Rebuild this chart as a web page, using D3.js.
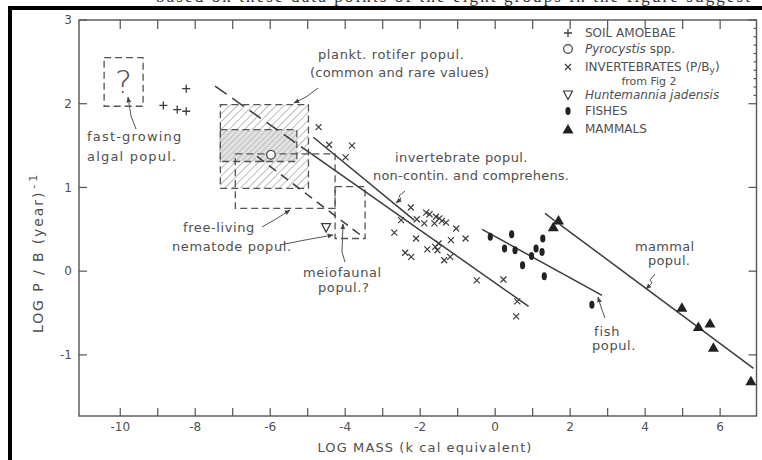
<!DOCTYPE html>
<html>
<head>
<meta charset="utf-8">
<script src="https://cdn.jsdelivr.net/npm/d3@7"></script>
<style>
    body { margin: 0; background: #fff; }
    text { font-family: "DejaVu Sans", sans-serif; fill: #505050; }
</style>
</head>
<body>
<svg id="chart" width="762" height="460"></svg>
<script>
// ---- data (log units) ----
const xTicks = d3.range(-10, 7);
const xLabels = [-10, -8, -6, -4, -2, 0, 2, 4, 6];
const yTicks = [3, 2, 1, 0, -1];

const soilAmoebae = [[-8.85, 1.98], [-8.48, 1.93], [-8.24, 1.91], [-8.24, 2.18]];
const pyrocystis = [[-5.98, 1.39]];
const huntemannia = [[-4.51, 0.52]];
const invertebrates = [
    [-4.71, 1.72], [-4.43, 1.51], [-3.82, 1.50], [-3.99, 1.36],
    [-2.25, 0.76], [-2.51, 0.61], [-2.69, 0.46], [-2.11, 0.39], [-2.40, 0.22], [-2.24, 0.17],
    [-2.09, 0.62], [-1.89, 0.57], [-1.84, 0.70], [-1.75, 0.68], [-1.62, 0.57], [-1.58, 0.65],
    [-1.49, 0.63], [-1.42, 0.60], [-1.31, 0.58], [-1.04, 0.51], [-1.18, 0.37], [-0.79, 0.39],
    [-1.81, 0.26], [-1.60, 0.29], [-1.54, 0.25], [-1.51, 0.33], [-1.36, 0.13], [-1.20, 0.17],
    [-0.49, -0.11], [0.22, -0.10], [0.59, -0.36], [0.56, -0.54]
];
const fishes = [
    [-0.13, 0.41], [0.44, 0.44], [0.25, 0.27], [0.53, 0.25], [0.73, 0.07], [0.97, 0.18],
    [1.09, 0.27], [1.25, 0.23], [1.27, 0.39], [1.31, -0.06], [2.58, -0.40]
];
const mammals = [
    [1.69, 0.61], [1.55, 0.53], [4.98, -0.43], [5.42, -0.66], [5.73, -0.62], [5.82, -0.91], [6.82, -1.31]
];

// regression lines
const invertDashed = [[-7.47, 2.21], [-4.9, 1.40]];
const invertSolid = [[-4.9, 1.40], [0.89, -0.42]];
const invertShort = [[-4.85, 1.60], [-2.16, 0.61]];
const meioDashed = [[-6.35, 1.37], [-3.47, 0.39]];
const fishLine = [[-0.35, 0.50], [2.85, -0.29]];
const mammalDashed = [[1.33, 0.69], [1.62, 0.59]];
const mammalSolid = [[1.72, 0.56], [6.89, -1.16]];

// ranges [x0, x1, y0, y1]
const algalBox = [-10.43, -9.39, 1.97, 2.55];
const rotiferRare = [-7.33, -4.98, 0.99, 1.99];
const rotiferCommon = [-7.33, -5.29, 1.31, 1.69];
const nematodeBox = [-6.93, -4.27, 0.75, 1.40];
const meioBox = [-4.27, -3.47, 0.39, 1.01];

// ---- chart ----
const svg = d3.select('#chart');
const ink = '#3c3c3c';

const x = d3.scaleLinear().domain([-11.1, 6.97]).range([79, 756.5]);
const y = d3.scaleLinear().domain([-1.73, 3]).range([416, 20]);

// page frame + clipped line of text above
svg.append('text')
    .attr('x', 156).attr('y', 2)
    .style('font-family', '"Liberation Serif", serif')
    .style('font-size', '17px')
    .style('fill', '#333')
    .attr('textLength', 594)
    .text('based on these data points of the eight groups in the figure suggest');
svg.append('rect').attr('x', 8).attr('y', 6).attr('width', 754).attr('height', 4).attr('fill', '#000');
svg.append('rect').attr('x', 8).attr('y', 6).attr('width', 4).attr('height', 454).attr('fill', '#000');

const defs = svg.append('defs');
defs.append('pattern')
    .attr('id', 'hatch')
    .attr('patternUnits', 'userSpaceOnUse')
    .attr('width', 5.5).attr('height', 5.5)
    .attr('patternTransform', 'rotate(45)')
    .append('line')
    .attr('x1', 0).attr('y1', 0).attr('x2', 0).attr('y2', 5.5)
    .attr('stroke', '#7a7a7a').attr('stroke-width', 1);
let dense = defs.append('pattern')
    .attr('id', 'dense')
    .attr('patternUnits', 'userSpaceOnUse')
    .attr('width', 4).attr('height', 4)
    .attr('patternTransform', 'rotate(45)');
dense.append('rect').attr('width', 4).attr('height', 4).attr('fill', '#e2e2e2');
dense.append('line')
    .attr('x1', 0).attr('y1', 0).attr('x2', 0).attr('y2', 4)
    .attr('stroke', '#9a9a9a').attr('stroke-width', 1);

defs.append('marker')
    .attr('id', 'arrow')
    .attr('viewBox', '0 0 10 10')
    .attr('refX', 9).attr('refY', 5)
    .attr('markerWidth', 6).attr('markerHeight', 6)
    .attr('orient', 'auto')
    .append('path').attr('d', 'M0,1 L10,5 L0,9 Z').attr('fill', '#444');

// axes box
svg.append('rect')
    .attr('x', x(-11.1)).attr('y', y(3))
    .attr('width', x(6.97) - x(-11.1)).attr('height', y(-1.73) - y(3))
    .attr('fill', 'none').attr('stroke', '#555').attr('stroke-width', 1.4);

// ticks (inside)
let tickG = svg.append('g').attr('stroke', '#555').attr('stroke-width', 1.2);
tickG.selectAll('.bt').data(xTicks).enter().append('line')
    .attr('x1', d => x(d)).attr('x2', d => x(d))
    .attr('y1', y(-1.73)).attr('y2', y(-1.73) - 8);
tickG.selectAll('.tt').data(xTicks).enter().append('line')
    .attr('x1', d => x(d)).attr('x2', d => x(d))
    .attr('y1', y(3)).attr('y2', y(3) + 9);
tickG.selectAll('.lt').data(yTicks).enter().append('line')
    .attr('x1', x(-11.1)).attr('x2', x(-11.1) + 8)
    .attr('y1', d => y(d)).attr('y2', d => y(d));
tickG.selectAll('.rt').data(yTicks).enter().append('line')
    .attr('x1', x(6.97)).attr('x2', x(6.97) - 8)
    .attr('y1', d => y(d)).attr('y2', d => y(d));
tickG.selectAll('.rm').data(d3.range(2.1, 3, 0.1)).enter().append('line')
    .attr('x1', x(6.97)).attr('x2', x(6.97) - 3)
    .attr('y1', d => y(d)).attr('y2', d => y(d));

// tick labels
svg.selectAll('.xl').data(xLabels).enter().append('text')
    .attr('x', d => x(d)).attr('y', 431)
    .attr('text-anchor', 'middle')
    .style('font-size', '12px')
    .text(d => d < 0 ? '-' + Math.abs(d) : d);
svg.selectAll('.yl').data(yTicks).enter().append('text')
    .attr('x', 72).attr('y', d => y(d))
    .attr('dy', '.35em')
    .attr('text-anchor', 'end')
    .style('font-size', '12px')
    .text(d => d < 0 ? '-' + Math.abs(d) : d);

// axis titles
svg.append('text')
    .attr('x', 425).attr('y', 452)
    .attr('text-anchor', 'middle')
    .style('font-size', '13px')
    .style('letter-spacing', '1.1px')
    .text('LOG MASS (k cal equivalent)');
let yTitle = svg.append('text')
    .attr('transform', 'translate(43,333) rotate(-90)')
    .style('font-size', '14px')
    .style('letter-spacing', '1.9px');
yTitle.append('tspan').text('LOG  P / B  (year)');
yTitle.append('tspan').attr('dy', -6).attr('dx', 2).style('font-size', '11px').style('letter-spacing', '3px').text('-1');

// ranges
function boxRect(b, fill) {
    svg.append('rect')
        .attr('x', x(b[0])).attr('y', y(b[3]))
        .attr('width', x(b[1]) - x(b[0])).attr('height', y(b[2]) - y(b[3]))
        .attr('fill', fill)
        .attr('stroke', '#555').attr('stroke-width', 1.3)
        .attr('stroke-dasharray', '7,4');
}
boxRect(rotiferRare, 'url(#hatch)');
boxRect(rotiferCommon, 'url(#dense)');
boxRect(nematodeBox, 'none');
boxRect(meioBox, 'none');
boxRect(algalBox, 'none');

svg.append('text')
    .attr('x', x(-9.91)).attr('y', y(2.26))
    .attr('dy', '.36em')
    .attr('text-anchor', 'middle')
    .style('font-size', '32px')
    .style('font-weight', 200)
    .text('?');

// lines
const line = d3.line().x(d => x(d[0])).y(d => y(d[1]));
function drawLine(pts, dash) {
    svg.append('path')
        .attr('d', line(pts))
        .attr('fill', 'none')
        .attr('stroke', ink).attr('stroke-width', 1.5)
        .attr('stroke-dasharray', dash || null);
}
drawLine(invertDashed, '14,7');
drawLine(invertSolid);
drawLine(invertShort);
drawLine(meioDashed, '9,6');
drawLine(fishLine);
drawLine(mammalDashed);
drawLine(mammalSolid);

// symbols
function plus(g, s) {
    g.append('path').attr('d', `M${-s},0H${s}M0,${-s}V${s}`)
        .attr('stroke', ink).attr('stroke-width', 1.3).attr('fill', 'none');
}
function cross(g, s) {
    g.append('path').attr('d', `M${-s},${-s}L${s},${s}M${s},${-s}L${-s},${s}`)
        .attr('stroke', ink).attr('stroke-width', 1.2).attr('fill', 'none');
}
function ring(g) {
    g.append('circle').attr('r', 4.3).attr('fill', '#fff').attr('stroke', ink).attr('stroke-width', 1.2);
}
function triDown(g) {
    g.append('path').attr('d', 'M-4.5,-4L4.5,-4L0,4.5Z')
        .attr('fill', 'none').attr('stroke', ink).attr('stroke-width', 1.2);
}
function fishDot(g) {
    g.append('ellipse').attr('rx', 2.6).attr('ry', 4).attr('fill', '#222');
}
function triUp(g) {
    g.append('path').attr('d', 'M-5.5,4.5L5.5,4.5L0,-5Z').attr('fill', '#222');
}
function scatter(data, draw) {
    svg.append('g').selectAll('g').data(data).enter().append('g')
        .attr('transform', d => `translate(${x(d[0])},${y(d[1])})`)
        .each(function() { draw(d3.select(this)); });
}
scatter(soilAmoebae, g => plus(g, 4));
scatter(pyrocystis, ring);
scatter(invertebrates, g => cross(g, 3));
scatter(huntemannia, triDown);
scatter(fishes, fishDot);
scatter(mammals, triUp);

// legend
const legendItems = [
    {draw: g => plus(g, 4), parts: [['SOIL AMOEBAE', 'normal']]},
    {draw: ring, parts: [['Pyrocystis', 'italic'], [' spp.', 'normal']]},
    {draw: g => cross(g, 3), parts: [['INVERTEBRATES (P/B', 'normal'], ['y', 'sub'], [')', 'normal']]},
    {draw: triDown, parts: [['Huntemannia jadensis', 'italic']]},
    {draw: fishDot, parts: [['FISHES', 'normal']]},
    {draw: triUp, parts: [['MAMMALS', 'normal']]}
];
const legendY = [33, 49, 67, 95, 111, 129];
legendItems.forEach((item, i) => {
    let g = svg.append('g').attr('transform', `translate(568,${legendY[i]})`);
    item.draw(g);
    let t = svg.append('text')
        .attr('x', 585).attr('y', legendY[i]).attr('dy', '.36em')
        .style('font-size', '12px');
    item.parts.forEach(p => {
        let ts = t.append('tspan').text(p[0]);
        if (p[1] === 'italic') ts.style('font-style', 'italic');
        if (p[1] === 'sub') ts.attr('dy', 2).style('font-size', '9px');
        if (p[1] === 'normal' && i === 2 && p[0] === ')') ts.attr('dy', -2);
    });
});
svg.append('text')
    .attr('x', 649).attr('y', 81).attr('dy', '.36em')
    .attr('text-anchor', 'middle')
    .style('font-size', '11px')
    .text('from Fig 2');

// annotations
const notes = [
    {t: 'fast-growing', x: 87, y: 141, ls: 1.2},
    {t: 'algal popul.', x: 87, y: 161, ls: 1.2},
    {t: 'plankt. rotifer popul.', x: 318, y: 59, ls: 0.6},
    {t: '(common and rare values)', x: 310, y: 77, ls: 0.3},
    {t: 'invertebrate popul.', x: 395, y: 162, ls: 0.4},
    {t: 'non-contin.  and  comprehens.', x: 373, y: 180, ls: 0.2},
    {t: 'free-living', x: 183, y: 232, ls: 0.6},
    {t: 'nematode popul.', x: 172, y: 251, ls: 0.6},
    {t: 'meiofaunal', x: 303, y: 277, ls: 0.6},
    {t: 'popul.?', x: 318, y: 292, ls: 0.6},
    {t: 'fish', x: 594, y: 336, ls: 0.8},
    {t: 'popul.', x: 592, y: 350, ls: 0.6},
    {t: 'mammal', x: 635, y: 251, ls: 0.3},
    {t: 'popul.', x: 648, y: 265, ls: 0.3}
];
svg.selectAll('.note').data(notes).enter().append('text')
    .attr('x', d => d.x).attr('y', d => d.y)
    .style('font-size', '13px')
    .style('letter-spacing', d => d.ls + 'px')
    .text(d => d.t);

// pointer arrows
const arrows = [
    'M136,129 L131,116 L128,97',
    'M318,88 L306,97 L294,103',
    'M405,191 L399,196 L401,199 L396,203',
    'M262,227 L276,219 L290,210',
    'M280,245 L305,240 L333,235',
    'M345,262 L342,252 L343,224',
    'M605,318 L601,307 L598,297',
    'M655,274 L650,280 L652,283 L646,289'
];
svg.selectAll('.arr').data(arrows).enter().append('path')
    .attr('d', d => d)
    .attr('fill', 'none')
    .attr('stroke', '#555').attr('stroke-width', 1)
    .attr('marker-end', 'url(#arrow)');
</script>
</body>
</html>
